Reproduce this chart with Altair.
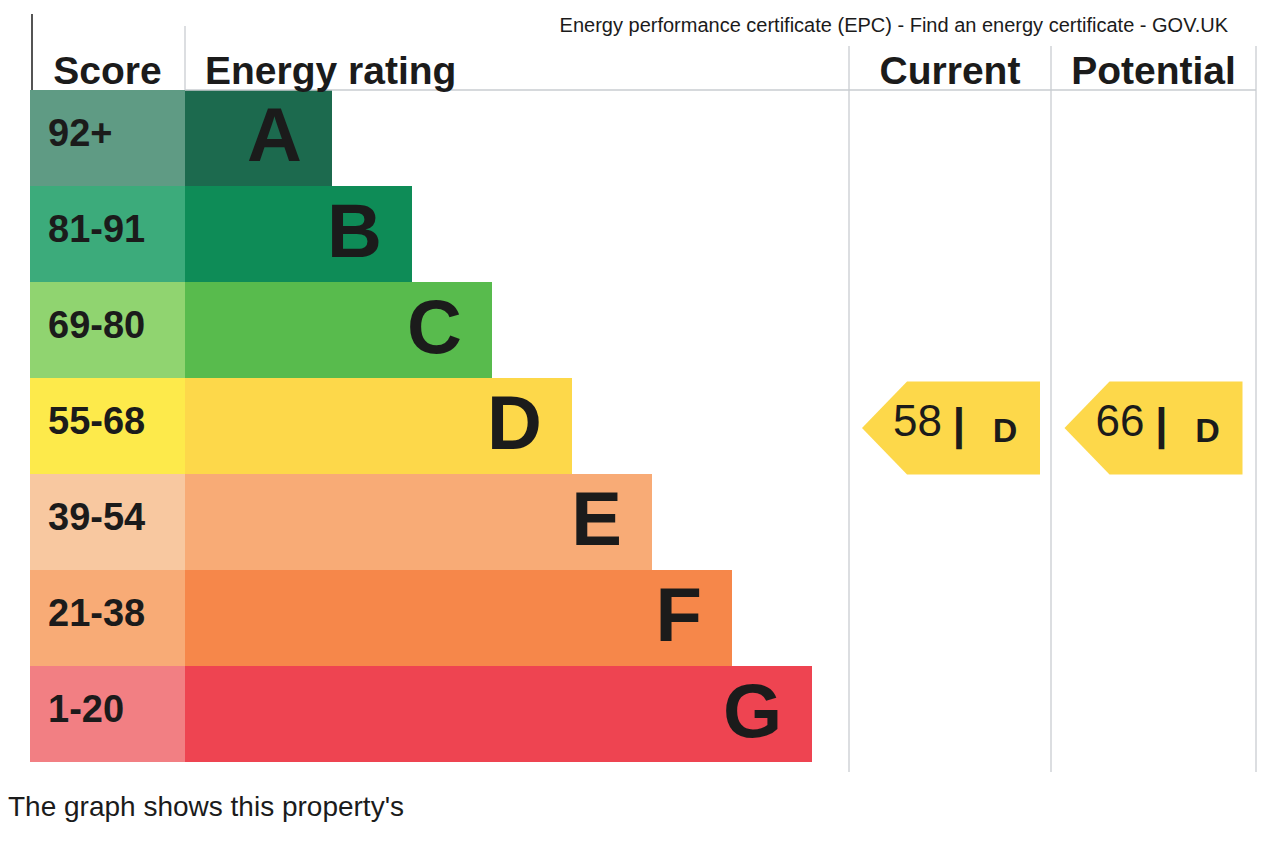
import altair as alt
import pandas as pd

# ---------------- data ----------------
ratings = ["A", "B", "C", "D", "E", "F", "G"]
score_bands = ["92+", "81-91", "69-80", "55-68", "39-54", "21-38", "1-20"]
band_min = [92, 81, 69, 55, 39, 21, 1]
bar_colors = ["#1c6a4e", "#0e8c57", "#58bb4d", "#fdd84a", "#f8ab76", "#f6874a", "#ee4451"]
score_colors = ["#5f9b84", "#3cab7b", "#90d470", "#fdea4b", "#f8c8a0", "#f8ab76", "#f27f83"]
marker_columns = ["Current", "Potential"]
marker_scores = [58, 66]
header_score = "Score"
header_rating = "Energy rating"
title_text = "Energy performance certificate (EPC) - Find an energy certificate - GOV.UK"
footer_text = "The graph shows this property's"

# ---------------- layout (pixels in the chart frame) ----------------
W, H = 1265, 826
FONT = "Liberation Sans"
ROW_TOP, ROW_H = 82, 96
SCORE_X0, BAR_X0 = 22, 177
BAR_A_W, BAR_STEP = 147, 80
COL_EDGES = [841, 1043, 1248]
HEADER_BASE = 76
LINE_TOP, LINE_BOTTOM = 38, 764
ARROW_W, ARROW_H, TIP = 178, 93, 45

xs = alt.Scale(domain=[0, W])
ys = alt.Scale(domain=[0, H], reverse=True)
X = lambda f: alt.X(f, type="quantitative", scale=xs, axis=None)
Y = lambda f: alt.Y(f, type="quantitative", scale=ys, axis=None)

rows = pd.DataFrame({
    "rating": ratings,
    "band": score_bands,
    "bar_color": bar_colors,
    "score_color": score_colors,
})
rows["i"] = range(len(ratings))
rows["y0"] = ROW_TOP + rows["i"] * ROW_H
rows["y1"] = rows["y0"] + ROW_H
rows["yc"] = rows["y0"] + ROW_H / 2
rows["sx0"] = SCORE_X0
rows["bx0"] = BAR_X0
rows["bx1"] = BAR_X0 + BAR_A_W + rows["i"] * BAR_STEP
rows["letter_x"] = rows["bx1"] - 30
rows["label_x"] = SCORE_X0 + 18

score_rects = alt.Chart(rows).mark_rect().encode(
    x=X("sx0"), x2="bx0", y=Y("y0"), y2="y1",
    color=alt.Color("score_color:N", scale=None))
bar_rects = alt.Chart(rows).mark_rect().encode(
    x=X("bx0"), x2="bx1", y=Y("y0"), y2="y1",
    color=alt.Color("bar_color:N", scale=None))
band_text = alt.Chart(rows).mark_text(
    align="left", baseline="middle", font=FONT, fontSize=38,
    fontWeight="bold", color="#1b1b1b", dy=-3).encode(
    x=X("label_x"), y=Y("yc"), text="band:N")
letter_text = alt.Chart(rows).mark_text(
    align="right", baseline="middle", font=FONT, fontSize=76,
    fontWeight="bold", color="#1b1b1b").encode(
    x=X("letter_x"), y=Y("yc"), text="rating:N")

# grid lines
lines = pd.DataFrame({
    "x": [COL_EDGES[0], COL_EDGES[1], COL_EDGES[2], BAR_X0, BAR_X0],
    "x2": [COL_EDGES[0], COL_EDGES[1], COL_EDGES[2], BAR_X0, COL_EDGES[2]],
    "y": [LINE_TOP, LINE_TOP, LINE_TOP, 18, ROW_TOP],
    "y2": [LINE_BOTTOM, LINE_BOTTOM, LINE_BOTTOM, ROW_TOP, ROW_TOP],
})
grid = alt.Chart(lines).mark_rule(color="#c9cdd1", strokeWidth=1.3).encode(
    x=X("x"), x2="x2", y=Y("y"), y2="y2")
left_border = alt.Chart(pd.DataFrame({"x": [SCORE_X0 + 2], "y": [6], "y2": [ROW_TOP]})).mark_rule(
    color="#2a2a2a", strokeWidth=1.6).encode(x=X("x"), y=Y("y"), y2="y2")

# headers
hdr_c = pd.DataFrame({
    "text": [header_score] + marker_columns,
    "x": [(SCORE_X0 + BAR_X0) / 2,
          (COL_EDGES[0] + COL_EDGES[1]) / 2,
          (COL_EDGES[1] + COL_EDGES[2]) / 2],
    "y": [HEADER_BASE] * 3,
})
hdr_center = alt.Chart(hdr_c).mark_text(
    align="center", baseline="alphabetic", font=FONT, fontSize=39,
    fontWeight="bold", color="#1b1b1b").encode(x=X("x"), y=Y("y"), text="text:N")
hdr_l = pd.DataFrame({"text": [header_rating], "x": [BAR_X0 + 20], "y": [HEADER_BASE]})
hdr_left = alt.Chart(hdr_l).mark_text(
    align="left", baseline="alphabetic", font=FONT, fontSize=39,
    fontWeight="bold", color="#1b1b1b").encode(x=X("x"), y=Y("y"), text="text:N")

title = alt.Chart(pd.DataFrame({"text": [title_text], "x": [1220], "y": [24]})).mark_text(
    align="right", baseline="alphabetic", font=FONT, fontSize=20, color="#1b1b1b").encode(
    x=X("x"), y=Y("y"), text="text:N")
footer = alt.Chart(pd.DataFrame({"text": [footer_text], "x": [0], "y": [808]})).mark_text(
    align="left", baseline="alphabetic", font=FONT, fontSize=28, color="#1b1b1b").encode(
    x=X("x"), y=Y("y"), text="text:N")

# markers
def band_of(score):
    for i, m in enumerate(band_min):
        if score >= m:
            return i
    return len(band_min) - 1

mk = pd.DataFrame({"col": marker_columns, "score": marker_scores})
mk["i"] = [band_of(s) for s in marker_scores]
mk["rating"] = [ratings[i] for i in mk["i"]]
mk["color"] = [bar_colors[i] for i in mk["i"]]
mk["xc"] = [(COL_EDGES[0] + COL_EDGES[1]) / 2 + 1, (COL_EDGES[1] + COL_EDGES[2]) / 2]
mk["yc"] = ROW_TOP + mk["i"] * ROW_H + ROW_H / 2 + 2
mk["num"] = mk["score"].astype(str)
mk["sep"] = "|"

hy = ARROW_H / ARROW_W
tipx = -1 + 2 * TIP / ARROW_W
arrow_path = f"M-1,0 L{tipx:.3f},{-hy:.3f} L1,{-hy:.3f} L1,{hy:.3f} L{tipx:.3f},{hy:.3f} Z"
arrows = alt.Chart(mk).mark_point(
    shape=arrow_path, size=ARROW_W ** 2, filled=True, opacity=1, strokeWidth=0).encode(
    x=X("xc"), y=Y("yc"), color=alt.Color("color:N", scale=None))
num_text = alt.Chart(mk).mark_text(
    align="right", baseline="middle", font=FONT, fontSize=44, color="#1b1b1b", dx=-9, dy=-5).encode(
    x=X("xc"), y=Y("yc"), text="num:N")
sep_text = alt.Chart(mk).mark_text(
    align="center", baseline="middle", font=FONT, fontSize=44, fontWeight="bold",
    color="#1b1b1b", dx=8, dy=-2).encode(x=X("xc"), y=Y("yc"), text="sep:N")
let_text = alt.Chart(mk).mark_text(
    align="center", baseline="middle", font=FONT, fontSize=34, fontWeight="bold",
    color="#1b1b1b", dx=54, dy=4).encode(x=X("xc"), y=Y("yc"), text="rating:N")

chart = alt.layer(
    score_rects, bar_rects, grid, left_border, band_text, letter_text,
    hdr_center, hdr_left, title, footer, arrows, num_text, sep_text, let_text
).properties(
    width=W, height=H, padding=0, autosize=alt.AutoSizeParams(type="none"),
    background="white"
).configure_view(stroke=None)

chart.save("out.html", embed_options={"renderer": "svg", "actions": False})
